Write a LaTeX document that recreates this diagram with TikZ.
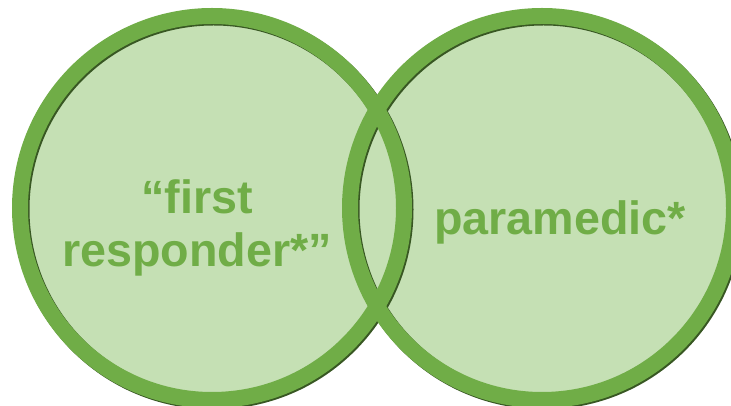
\documentclass[tikz,border=0pt]{standalone}
\usepackage{fontspec}
\setmainfont{Liberation Sans}
\usepackage{xcolor}
\usepackage{tikz}
\usetikzlibrary{positioning}
\definecolor{ringgreen}{RGB}{112, 173, 71}
\definecolor{softgreen}{RGB}{197, 224, 180}
\definecolor{shadegreen}{RGB}{56, 87, 35}
\tikzset{
    disc/.style  ={circle, fill=softgreen, draw=none, minimum size=288pt, inner sep=0pt},
    ring/.style  ={circle, draw=ringgreen, line width=12pt, minimum size=288pt, inner sep=0pt},
    shade/.style ={ring, draw=shadegreen},
    term/.style  ={text=ringgreen, font=\fontsize{35}{40}\selectfont\bfseries, align=center, inner sep=0pt}
}

\begin{document}
\begin{tikzpicture}[x=0.75pt, y=0.75pt]
  \useasboundingbox (0,0) rectangle (731,406);
  \clip (0,0) rectangle (731,406);
  % fills first, then the dark offset rims, then the green rims
  \node[disc] (left)  at (212,198) {};
  \node[disc] (right) at (542,198) {};
  \node[shade] (leftsh)  at ([shift={(1.5,-1.5)}]left.center)  {};
  \node[shade] (rightsh) at ([shift={(1.5,-1.5)}]right.center) {};
  \node[ring] (leftrim)  at (left.center)  {};
  \node[ring] (rightrim) at (right.center) {};

  \node[term] (resp) at (197,178) {``first\\responder*''};
  \node[term] (para) at (560,184) {paramedic*};
\end{tikzpicture}
\end{document}
